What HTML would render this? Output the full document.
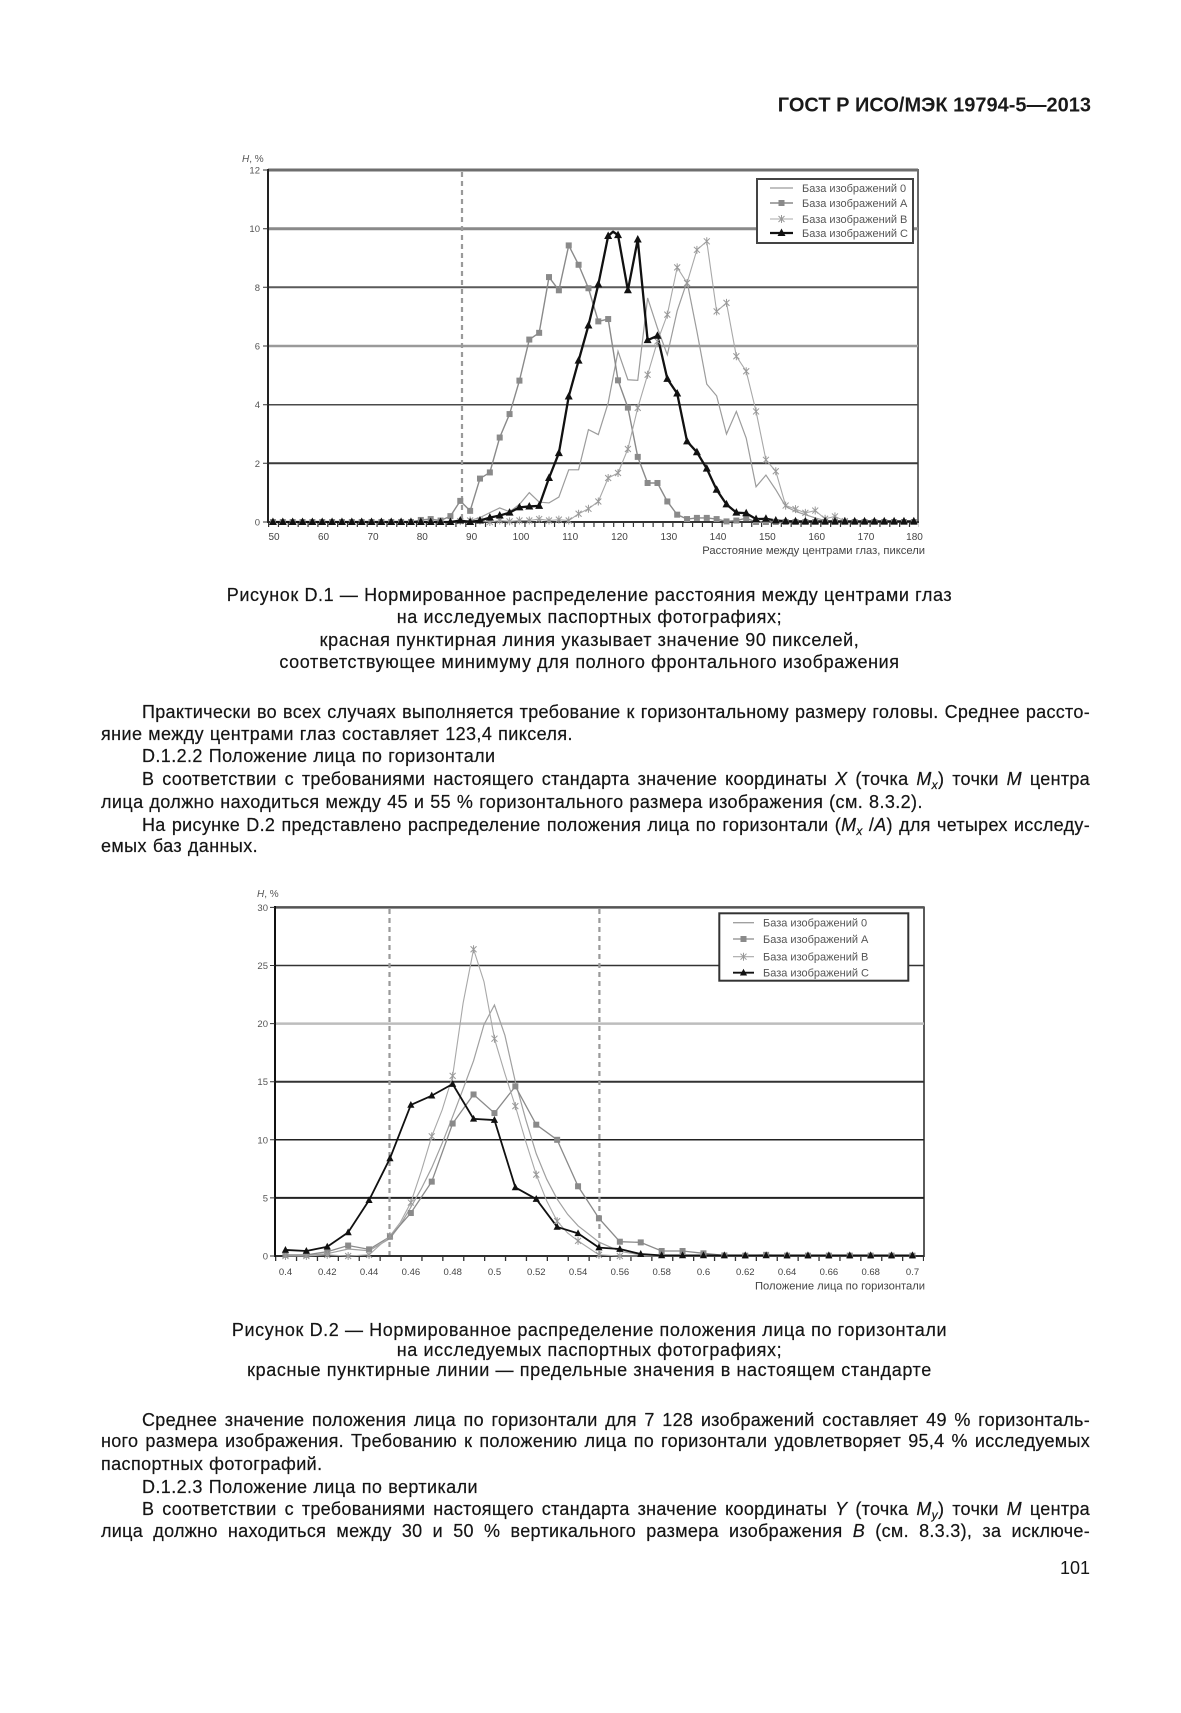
<!DOCTYPE html>
<html><head><meta charset="utf-8">
<style>
html,body{margin:0;padding:0;background:#fff}
#pg{position:relative;width:1181px;height:1713px;overflow:hidden;background:#fff;font-family:"Liberation Sans",Arial,sans-serif;color:#151515}
svg{position:absolute;left:0;top:0}
.l{position:absolute;font-size:18px;line-height:18px;white-space:nowrap;letter-spacing:.4px;word-spacing:.5px;-webkit-text-stroke:.2px #151515}
.j{text-align:justify;text-align-last:justify;white-space:normal;letter-spacing:.3px;word-spacing:-2px}
.i{left:142px;width:948px}
.f{left:101px;width:989px}
.c{position:absolute;left:0;width:1179px;text-align:center;font-size:18px;line-height:18px;letter-spacing:.6px;white-space:nowrap;-webkit-text-stroke:.2px #151515}
sub{font-size:12px;vertical-align:baseline;position:relative;top:4px;line-height:0}
</style></head><body><div id="pg">
<svg width="1181" height="1713" viewBox="0 0 1181 1713" font-family="Liberation Sans, Arial, sans-serif">
<defs>
<g id="a1" transform="scale(.20284 -.034095)"><rect x="-3" y="-3" width="6" height="6" fill="#8a8a8a"/></g>
<g id="c1" transform="scale(.20284 -.034095)"><path d="M0 -4.5L4 3H-4Z" fill="#111"/></g>
<g id="b1" transform="scale(.20284 -.034095)"><path d="M-3 -3L3 3M-3 3L3 -3M0 -4V4" stroke="#999" stroke-width="1" fill="none"/></g>
<g id="a2" transform="scale(.047847 -.086059)"><rect x="-3" y="-3" width="6" height="6" fill="#8a8a8a"/></g>
<g id="c2" transform="scale(.047847 -.086059)"><path d="M0 -4L3.6 2.8H-3.6Z" fill="#111"/></g>
<g id="b2" transform="scale(.047847 -.086059)"><path d="M-3 -3L3 3M-3 3L3 -3M0 -4V4" stroke="#999" stroke-width="1" fill="none"/></g>
</defs>

<!-- header -->
<text x="1091" y="111.5" text-anchor="end" font-size="20" font-weight="bold" fill="#1a1a1a">ГОСТ Р ИСО/МЭК 19794-5—2013</text>

<!-- ============ CHART 1 ============ -->
<rect x="268" y="170" width="650" height="352" fill="#fff" stroke="#6a6a6a" stroke-width="2"/>
<g fill="none">
<line x1="268" y1="228.7" x2="918" y2="228.7" stroke="#8a8a8a" stroke-width="3"/>
<line x1="268" y1="287.3" x2="918" y2="287.3" stroke="#5a5a5a" stroke-width="2"/>
<line x1="268" y1="346" x2="918" y2="346" stroke="#9a9a9a" stroke-width="2.5"/>
<line x1="268" y1="404.7" x2="918" y2="404.7" stroke="#4a4a4a" stroke-width="1.5"/>
<line x1="268" y1="463.3" x2="918" y2="463.3" stroke="#3a3a3a" stroke-width="2"/>
<line x1="268" y1="170" x2="918" y2="170" stroke="#6e6e6e" stroke-width="3"/>
<line x1="268" y1="522" x2="919" y2="522" stroke="#222" stroke-width="1.5"/>
<line x1="268" y1="524.5" x2="919" y2="524.5" stroke="#333" stroke-width="5" stroke-dasharray="1.2 8.66"/>
<line x1="268" y1="169" x2="268" y2="523" stroke="#222" stroke-width="2"/>
<path d="M263 170h5M263 228.7h5M263 287.3h5M263 346h5M263 404.7h5M263 463.3h5M263 522h5" stroke="#333" stroke-width="1"/>
<line x1="462" y1="172" x2="462" y2="521" stroke="#9a9a9a" stroke-width="2.2" stroke-dasharray="5 4"/>
</g>
<g font-size="9.5" fill="#555" text-anchor="end">
<text x="260" y="525.5">0</text><text x="260" y="466.8">2</text><text x="260" y="408.2">4</text><text x="260" y="349.5">6</text><text x="260" y="290.8">8</text><text x="260" y="232.2">10</text><text x="260" y="173.5">12</text>
</g>
<text x="242" y="162" font-size="10" fill="#555"><tspan font-style="italic">H</tspan>, %</text>
<g font-size="10" fill="#444" text-anchor="middle">
<text x="274" y="540">50</text><text x="323.5" y="540">60</text><text x="373" y="540">70</text><text x="422.3" y="540">80</text><text x="471.6" y="540">90</text><text x="521" y="540">100</text><text x="570.2" y="540">110</text><text x="619.5" y="540">120</text><text x="668.8" y="540">130</text><text x="718" y="540">140</text><text x="767.4" y="540">150</text><text x="816.7" y="540">160</text><text x="866" y="540">170</text><text x="914.5" y="540">180</text>
</g>
<text x="925" y="554" font-size="11.2" fill="#444" text-anchor="end">Расстояние между центрами глаз, пиксели</text>

<g transform="translate(268 522) scale(4.93 -29.33) translate(-49 0)" fill="none">
<polyline vector-effect="non-scaling-stroke" stroke="#9c9c9c" stroke-width="1.2" points="50,0 86,0 88,.02 90,.05 92,.15 94,.32 96,.48 98,.35 100,.6 102,1 104,.68 106,.65 108,.85 110,1.78 112,1.78 114,3.15 116,2.98 118,4.06 120,5.82 122,4.85 124,4.83 126,7.64 128,6.61 130,5.7 132,7.2 134,8.2 136,6.5 138,4.7 140,4.3 142,3 144,3.77 146,2.86 148,1.2 150,1.6 152,1.1 154,.53 156,.36 158,.25 160,.14 162,.05 164,0 180,0"/>
<polyline vector-effect="non-scaling-stroke" stroke="#8a8a8a" stroke-width="1.4" points="50,0 78,0 80,.07 82,.1 84,.05 86,.2 88,.72 90,.38 92,1.48 94,1.69 96,2.88 98,3.68 100,4.82 102,6.22 104,6.45 106,8.35 108,7.9 110,9.43 112,8.77 114,7.97 116,6.84 118,6.92 120,4.83 122,3.9 124,2.22 126,1.33 128,1.33 130,.7 132,.25 134,.1 136,.14 138,.14 140,.1 142,.02 144,.05 146,.13 148,0 180,0"/>
<polyline vector-effect="non-scaling-stroke" stroke="#a8a8a8" stroke-width="1.1" points="50,0 86,0 88,.03 90,.05 92,.05 94,0 96,.05 98,.02 100,.05 102,.05 104,.1 106,.05 108,.08 110,.05 112,.28 114,.45 116,.7 118,1.5 120,1.67 122,2.49 124,3.89 126,5.02 128,6.16 130,7.07 132,8.68 134,8.15 136,9.28 138,9.57 140,7.18 142,7.47 144,5.65 146,5.14 148,3.77 150,2.12 152,1.73 154,.56 156,.44 158,.31 160,.39 162,.11 164,.19 166,.03 168,0 180,0"/>
<polyline vector-effect="non-scaling-stroke" stroke="#111" stroke-width="2.3" stroke-linejoin="round" points="50,0 86,0 88,.05 90,0 92,.05 94,.15 96,.22 98,.32 100,.5 102,.53 104,.55 106,1.5 108,2.35 110,4.28 112,5.5 114,6.7 116,8.1 118,9.75 119,9.9 120,9.78 122,7.9 124,9.63 126,6.2 128,6.35 130,4.88 132,4.38 134,2.75 136,2.38 138,1.82 140,1.1 142,.6 144,.32 146,.3 148,.1 150,.11 152,.05 154,.03 156,.02 180,.02"/>
<!-- A markers -->
<use href="#a1" x="50"/><use href="#a1" x="52"/><use href="#a1" x="54"/><use href="#a1" x="56"/><use href="#a1" x="58"/><use href="#a1" x="60"/><use href="#a1" x="62"/><use href="#a1" x="64"/><use href="#a1" x="66"/><use href="#a1" x="68"/><use href="#a1" x="70"/><use href="#a1" x="72"/><use href="#a1" x="74"/><use href="#a1" x="76"/><use href="#a1" x="78"/>
<use href="#a1" x="80" y=".07"/><use href="#a1" x="82" y=".1"/><use href="#a1" x="84" y=".05"/><use href="#a1" x="86" y=".2"/><use href="#a1" x="88" y=".72"/><use href="#a1" x="90" y=".38"/><use href="#a1" x="92" y="1.48"/><use href="#a1" x="94" y="1.69"/><use href="#a1" x="96" y="2.88"/><use href="#a1" x="98" y="3.68"/><use href="#a1" x="100" y="4.82"/><use href="#a1" x="102" y="6.22"/><use href="#a1" x="104" y="6.45"/><use href="#a1" x="106" y="8.35"/><use href="#a1" x="108" y="7.9"/><use href="#a1" x="110" y="9.43"/><use href="#a1" x="112" y="8.77"/><use href="#a1" x="114" y="7.97"/><use href="#a1" x="116" y="6.84"/><use href="#a1" x="118" y="6.92"/><use href="#a1" x="120" y="4.83"/><use href="#a1" x="122" y="3.9"/><use href="#a1" x="124" y="2.22"/><use href="#a1" x="126" y="1.33"/><use href="#a1" x="128" y="1.33"/><use href="#a1" x="130" y=".7"/><use href="#a1" x="132" y=".25"/><use href="#a1" x="134" y=".1"/><use href="#a1" x="136" y=".14"/><use href="#a1" x="138" y=".14"/><use href="#a1" x="140" y=".1"/><use href="#a1" x="142" y=".02"/><use href="#a1" x="144" y=".05"/><use href="#a1" x="146" y=".13"/>
<use href="#a1" x="148"/><use href="#a1" x="150"/><use href="#a1" x="152"/><use href="#a1" x="154"/><use href="#a1" x="156"/><use href="#a1" x="158"/><use href="#a1" x="160"/><use href="#a1" x="162"/><use href="#a1" x="164"/><use href="#a1" x="166"/><use href="#a1" x="168"/><use href="#a1" x="170"/><use href="#a1" x="172"/><use href="#a1" x="174"/><use href="#a1" x="176"/><use href="#a1" x="178"/><use href="#a1" x="180"/>
<!-- B markers -->
<use href="#b1" x="88" y=".03"/><use href="#b1" x="90" y=".05"/><use href="#b1" x="92" y=".05"/><use href="#b1" x="94"/><use href="#b1" x="96" y=".05"/><use href="#b1" x="98" y=".02"/><use href="#b1" x="100" y=".05"/><use href="#b1" x="102" y=".05"/><use href="#b1" x="104" y=".1"/><use href="#b1" x="106" y=".05"/><use href="#b1" x="108" y=".08"/><use href="#b1" x="110" y=".05"/><use href="#b1" x="112" y=".28"/><use href="#b1" x="114" y=".45"/><use href="#b1" x="116" y=".7"/><use href="#b1" x="118" y="1.5"/><use href="#b1" x="120" y="1.67"/><use href="#b1" x="122" y="2.49"/><use href="#b1" x="124" y="3.89"/><use href="#b1" x="126" y="5.02"/><use href="#b1" x="128" y="6.16"/><use href="#b1" x="130" y="7.07"/><use href="#b1" x="132" y="8.68"/><use href="#b1" x="134" y="8.15"/><use href="#b1" x="136" y="9.28"/><use href="#b1" x="138" y="9.57"/><use href="#b1" x="140" y="7.18"/><use href="#b1" x="142" y="7.47"/><use href="#b1" x="144" y="5.65"/><use href="#b1" x="146" y="5.14"/><use href="#b1" x="148" y="3.77"/><use href="#b1" x="150" y="2.12"/><use href="#b1" x="152" y="1.73"/><use href="#b1" x="154" y=".56"/><use href="#b1" x="156" y=".44"/><use href="#b1" x="158" y=".31"/><use href="#b1" x="160" y=".39"/><use href="#b1" x="162" y=".11"/><use href="#b1" x="164" y=".19"/><use href="#b1" x="166" y=".03"/>
<!-- C markers -->
<use href="#c1" x="50"/><use href="#c1" x="52"/><use href="#c1" x="54"/><use href="#c1" x="56"/><use href="#c1" x="58"/><use href="#c1" x="60"/><use href="#c1" x="62"/><use href="#c1" x="64"/><use href="#c1" x="66"/><use href="#c1" x="68"/><use href="#c1" x="70"/><use href="#c1" x="72"/><use href="#c1" x="74"/><use href="#c1" x="76"/><use href="#c1" x="78"/><use href="#c1" x="80"/><use href="#c1" x="82"/><use href="#c1" x="84"/><use href="#c1" x="86"/>
<use href="#c1" x="88" y=".05"/><use href="#c1" x="90"/><use href="#c1" x="92" y=".05"/><use href="#c1" x="94" y=".15"/><use href="#c1" x="96" y=".22"/><use href="#c1" x="98" y=".32"/><use href="#c1" x="100" y=".5"/><use href="#c1" x="102" y=".53"/><use href="#c1" x="104" y=".55"/><use href="#c1" x="106" y="1.5"/><use href="#c1" x="108" y="2.35"/><use href="#c1" x="110" y="4.28"/><use href="#c1" x="112" y="5.5"/><use href="#c1" x="114" y="6.7"/><use href="#c1" x="116" y="8.1"/><use href="#c1" x="118" y="9.75"/><use href="#c1" x="120" y="9.78"/><use href="#c1" x="122" y="7.9"/><use href="#c1" x="124" y="9.63"/><use href="#c1" x="126" y="6.2"/><use href="#c1" x="128" y="6.35"/><use href="#c1" x="130" y="4.88"/><use href="#c1" x="132" y="4.38"/><use href="#c1" x="134" y="2.75"/><use href="#c1" x="136" y="2.38"/><use href="#c1" x="138" y="1.82"/><use href="#c1" x="140" y="1.1"/><use href="#c1" x="142" y=".6"/><use href="#c1" x="144" y=".32"/><use href="#c1" x="146" y=".3"/><use href="#c1" x="148" y=".1"/><use href="#c1" x="150" y=".11"/><use href="#c1" x="152" y=".05"/><use href="#c1" x="154" y=".03"/>
<use href="#c1" x="156" y=".02"/><use href="#c1" x="158" y=".02"/><use href="#c1" x="160" y=".02"/><use href="#c1" x="162" y=".02"/><use href="#c1" x="164" y=".02"/><use href="#c1" x="166" y=".02"/><use href="#c1" x="168" y=".02"/><use href="#c1" x="170" y=".02"/><use href="#c1" x="172" y=".02"/><use href="#c1" x="174" y=".02"/><use href="#c1" x="176" y=".02"/><use href="#c1" x="178" y=".02"/><use href="#c1" x="180" y=".02"/>
</g>

<!-- legend 1 -->
<rect x="757" y="179" width="156" height="64" fill="#fff" stroke="#444" stroke-width="2"/>
<line x1="770" y1="188" x2="793" y2="188" stroke="#9c9c9c" stroke-width="1.3"/>
<line x1="770" y1="203" x2="793" y2="203" stroke="#8a8a8a" stroke-width="1.4"/><rect x="778.5" y="200" width="6" height="6" fill="#8a8a8a"/>
<line x1="770" y1="219" x2="793" y2="219" stroke="#a8a8a8" stroke-width="1.1"/><path d="M778.5 216L784.5 222M778.5 222L784.5 216M781.5 215V223" stroke="#999" stroke-width="1" fill="none"/>
<line x1="770" y1="233" x2="793" y2="233" stroke="#111" stroke-width="2.3"/><path d="M781.5 228.5L785.5 236H777.5Z" fill="#111"/>
<g font-size="11" fill="#555">
<text x="802" y="191.8">База изображений 0</text>
<text x="802" y="206.8">База изображений А</text>
<text x="802" y="222.8">База изображений В</text>
<text x="802" y="236.8">База изображений С</text>
</g>

<!-- ============ CHART 2 ============ -->
<rect x="275" y="907.4" width="649" height="348.6" fill="#fff" stroke="#5a5a5a" stroke-width="2"/>
<g fill="none">
<line x1="275" y1="965.5" x2="924" y2="965.5" stroke="#333" stroke-width="1.5"/>
<line x1="275" y1="1023.6" x2="924" y2="1023.6" stroke="#bdbdbd" stroke-width="2.5"/>
<line x1="275" y1="1081.7" x2="924" y2="1081.7" stroke="#333" stroke-width="2"/>
<line x1="275" y1="1139.8" x2="924" y2="1139.8" stroke="#222" stroke-width="1.5"/>
<line x1="275" y1="1197.9" x2="924" y2="1197.9" stroke="#222" stroke-width="2"/>
<line x1="275" y1="907.4" x2="924" y2="907.4" stroke="#555" stroke-width="2.5"/>
<line x1="275" y1="1256" x2="924" y2="1256" stroke="#222" stroke-width="1.5"/>
<line x1="275" y1="1258.5" x2="924" y2="1258.5" stroke="#333" stroke-width="5" stroke-dasharray="1.3 19.6"/>
<line x1="275" y1="906" x2="275" y2="1257" stroke="#111" stroke-width="2"/>
<path d="M270 907.4h5M270 965.5h5M270 1023.6h5M270 1081.7h5M270 1139.8h5M270 1197.9h5M270 1256h5" stroke="#333" stroke-width="1"/>
<line x1="389.5" y1="909" x2="389.5" y2="1255" stroke="#9a9a9a" stroke-width="2.2" stroke-dasharray="5 4"/>
<line x1="599.4" y1="909" x2="599.4" y2="1255" stroke="#9a9a9a" stroke-width="2.2" stroke-dasharray="5 4"/>
</g>
<g font-size="9.5" fill="#555" text-anchor="end">
<text x="268" y="1259.5">0</text><text x="268" y="1201.4">5</text><text x="268" y="1143.3">10</text><text x="268" y="1085.2">15</text><text x="268" y="1027.1">20</text><text x="268" y="969">25</text><text x="268" y="910.9">30</text>
</g>
<text x="257" y="897" font-size="10" fill="#555"><tspan font-style="italic">H</tspan>, %</text>
<g font-size="9.5" fill="#444" text-anchor="middle">
<text x="285.5" y="1275">0.4</text><text x="327.3" y="1275">0.42</text><text x="369.1" y="1275">0.44</text><text x="410.9" y="1275">0.46</text><text x="452.7" y="1275">0.48</text><text x="494.5" y="1275">0.5</text><text x="536.3" y="1275">0.52</text><text x="578.1" y="1275">0.54</text><text x="619.9" y="1275">0.56</text><text x="661.7" y="1275">0.58</text><text x="703.5" y="1275">0.6</text><text x="745.3" y="1275">0.62</text><text x="787.1" y="1275">0.64</text><text x="828.9" y="1275">0.66</text><text x="870.7" y="1275">0.68</text><text x="912.5" y="1275">0.7</text>
</g>
<text x="925" y="1289.5" font-size="11.2" fill="#444" text-anchor="end">Положение лица по горизонтали</text>

<g transform="translate(285.45 1256) scale(20.9 -11.62)" fill="none">
<polyline vector-effect="non-scaling-stroke" stroke="#a0a0a0" stroke-width="1.2" points="0,0 1,.05 2,.2 3,.6 4,.45 5,1.5 5.5,2.7 6,4.2 6.5,5.79 7,7.6 7.5,9.71 8,12 8.5,14.38 9,16.8 9.5,19.91 10,21.6 10.5,18.99 11,15 11.5,11.73 12,8.8 12.5,6.61 13,4.9 13.5,3.59 14,2.6 15,1.2 16,.4 17,.1 18,0 30,0"/>
<polyline vector-effect="non-scaling-stroke" stroke="#8a8a8a" stroke-width="1.3" points="0,.1 1,.1 2,.37 3,.9 4,.57 5,1.66 6,3.7 7,6.4 8,11.4 9,13.9 10,12.3 11,14.6 12,11.3 13,10 14,6 15,3.24 16,1.23 17,1.17 18,.43 19,.43 20,.23 21,.05 22,.03 23,.1 24,.03 30,.03"/>
<polyline vector-effect="non-scaling-stroke" stroke="#a8a8a8" stroke-width="1.1" points="0,0 1,0 2,.1 3,0 4,.1 5,1.72 5.5,2.9 6,4.6 6.5,7.3 7,10.3 7.5,12.58 8,15.5 8.5,21.76 9,26.4 9.5,23.6 10,18.7 10.5,15.69 11,12.9 11.5,9.84 12,7 12.5,4.74 13,3 13.5,1.98 14,1.3 15,.1 16,0 30,0"/>
<polyline vector-effect="non-scaling-stroke" stroke="#111" stroke-width="1.8" stroke-linejoin="round" points="0,.52 1,.43 2,.8 3,2.03 4,4.8 5,8.4 6,13 7,13.8 8,14.8 9,11.8 10,11.7 11,5.9 12,4.9 13,2.5 14,1.95 15,.72 16,.6 17,.17 18,.05 30,.05"/>
<!-- A markers -->
<use href="#a2" x="0" y=".1"/><use href="#a2" x="1" y=".1"/><use href="#a2" x="2" y=".37"/><use href="#a2" x="3" y=".9"/><use href="#a2" x="4" y=".57"/><use href="#a2" x="5" y="1.66"/><use href="#a2" x="6" y="3.7"/><use href="#a2" x="7" y="6.4"/><use href="#a2" x="8" y="11.4"/><use href="#a2" x="9" y="13.9"/><use href="#a2" x="10" y="12.3"/><use href="#a2" x="11" y="14.6"/><use href="#a2" x="12" y="11.3"/><use href="#a2" x="13" y="10"/><use href="#a2" x="14" y="6"/><use href="#a2" x="15" y="3.24"/><use href="#a2" x="16" y="1.23"/><use href="#a2" x="17" y="1.17"/><use href="#a2" x="18" y=".43"/><use href="#a2" x="19" y=".43"/><use href="#a2" x="20" y=".23"/><use href="#a2" x="21" y=".05"/><use href="#a2" x="22" y=".03"/><use href="#a2" x="23" y=".1"/><use href="#a2" x="24" y=".03"/><use href="#a2" x="25" y=".03"/><use href="#a2" x="26" y=".03"/><use href="#a2" x="27" y=".03"/><use href="#a2" x="28" y=".03"/><use href="#a2" x="29" y=".03"/><use href="#a2" x="30" y=".03"/>
<!-- B markers -->
<use href="#b2" x="0"/><use href="#b2" x="1"/><use href="#b2" x="2" y=".1"/><use href="#b2" x="3"/><use href="#b2" x="4" y=".1"/><use href="#b2" x="5" y="1.72"/><use href="#b2" x="6" y="4.6"/><use href="#b2" x="7" y="10.3"/><use href="#b2" x="8" y="15.5"/><use href="#b2" x="9" y="26.4"/><use href="#b2" x="10" y="18.7"/><use href="#b2" x="11" y="12.9"/><use href="#b2" x="12" y="7"/><use href="#b2" x="13" y="3"/><use href="#b2" x="14" y="1.3"/><use href="#b2" x="15" y=".1"/><use href="#b2" x="16"/>
<!-- C markers -->
<use href="#c2" x="0" y=".52"/><use href="#c2" x="1" y=".43"/><use href="#c2" x="2" y=".8"/><use href="#c2" x="3" y="2.03"/><use href="#c2" x="4" y="4.8"/><use href="#c2" x="5" y="8.4"/><use href="#c2" x="6" y="13"/><use href="#c2" x="7" y="13.8"/><use href="#c2" x="8" y="14.8"/><use href="#c2" x="9" y="11.8"/><use href="#c2" x="10" y="11.7"/><use href="#c2" x="11" y="5.9"/><use href="#c2" x="12" y="4.9"/><use href="#c2" x="13" y="2.5"/><use href="#c2" x="14" y="1.95"/><use href="#c2" x="15" y=".72"/><use href="#c2" x="16" y=".6"/><use href="#c2" x="17" y=".17"/><use href="#c2" x="18" y=".05"/><use href="#c2" x="19" y=".05"/><use href="#c2" x="20" y=".05"/><use href="#c2" x="21" y=".05"/><use href="#c2" x="22" y=".05"/><use href="#c2" x="23" y=".05"/><use href="#c2" x="24" y=".05"/><use href="#c2" x="25" y=".05"/><use href="#c2" x="26" y=".05"/><use href="#c2" x="27" y=".05"/><use href="#c2" x="28" y=".05"/><use href="#c2" x="29" y=".05"/><use href="#c2" x="30" y=".05"/>
</g>

<!-- legend 2 -->
<rect x="719.3" y="913.3" width="189" height="67.4" fill="#fff" stroke="#333" stroke-width="2"/>
<line x1="733" y1="922.7" x2="754" y2="922.7" stroke="#a0a0a0" stroke-width="1.3"/>
<line x1="733" y1="939" x2="754" y2="939" stroke="#8a8a8a" stroke-width="1.3"/><rect x="740.5" y="936" width="6" height="6" fill="#8a8a8a"/>
<line x1="733" y1="956.7" x2="754" y2="956.7" stroke="#a8a8a8" stroke-width="1.1"/><path d="M740.5 953.7L746.5 959.7M740.5 959.7L746.5 953.7M743.5 952.7V960.7" stroke="#999" stroke-width="1" fill="none"/>
<line x1="733" y1="972.7" x2="754" y2="972.7" stroke="#111" stroke-width="1.8"/><path d="M743.5 968.7L747.1 975.5H739.9Z" fill="#111"/>
<g font-size="11" fill="#555">
<text x="763" y="926.5">База изображений 0</text>
<text x="763" y="942.8">База изображений А</text>
<text x="763" y="960.5">База изображений В</text>
<text x="763" y="976.5">База изображений С</text>
</g>

<!-- page number -->
<text x="1090" y="1574" text-anchor="end" font-size="18" fill="#151515">101</text>
</svg>

<!-- caption 1 -->
<div class="c" style="top:586.2px">Рисунок D.1 — Нормированное распределение расстояния между центрами глаз</div>
<div class="c" style="top:607.5px">на исследуемых паспортных фотографиях;</div>
<div class="c" style="top:630.5px">красная пунктирная линия указывает значение 90 пикселей,</div>
<div class="c" style="top:652.5px">соответствующее минимуму для полного фронтального изображения</div>

<!-- paragraph 1 -->
<div class="l j i" style="top:702.8px">Практически во всех случаях выполняется требование к горизонтальному размеру головы. Среднее рассто-</div>
<div class="l f" style="top:725.1px">яние между центрами глаз составляет 123,4 пикселя.</div>
<div class="l i" style="top:747.4px">D.1.2.2 Положение лица по горизонтали</div>
<div class="l j i" style="top:770.3px">В соответствии с требованиями настоящего стандарта значение координаты <i>X</i> (точка <i>M</i><sub><i>x</i></sub>) точки <i>M</i> центра</div>
<div class="l f" style="top:793.3px">лица должно находиться между 45 и 55 % горизонтального размера изображения (см. 8.3.2).</div>
<div class="l j i" style="top:815.6px">На рисунке D.2 представлено распределение положения лица по горизонтали (<i>M</i><sub><i>x</i></sub> /<i>A</i>) для четырех исследу-</div>
<div class="l f" style="top:836.6px">емых баз данных.</div>

<!-- caption 2 -->
<div class="c" style="top:1320.5px">Рисунок D.2 — Нормированное распределение положения лица по горизонтали</div>
<div class="c" style="top:1341.2px">на исследуемых паспортных фотографиях;</div>
<div class="c" style="top:1361.2px">красные пунктирные линии — предельные значения в настоящем стандарте</div>

<!-- paragraph 2 -->
<div class="l j i" style="top:1411.3px">Среднее значение положения лица по горизонтали для 7 128 изображений составляет 49 % горизонталь-</div>
<div class="l j f" style="top:1432.3px">ного размера изображения. Требованию к положению лица по горизонтали удовлетворяет 95,4 % исследуемых</div>
<div class="l f" style="top:1454.8px">паспортных фотографий.</div>
<div class="l i" style="top:1477.8px">D.1.2.3 Положение лица по вертикали</div>
<div class="l j i" style="top:1499.8px">В соответствии с требованиями настоящего стандарта значение координаты <i>Y</i> (точка <i>M</i><sub><i>y</i></sub>) точки <i>M</i> центра</div>
<div class="l j f" style="top:1521.8px">лица должно находиться между 30 и 50 % вертикального размера изображения <i>B</i> (см. 8.3.3), за исключе-</div>
</div></body></html>
